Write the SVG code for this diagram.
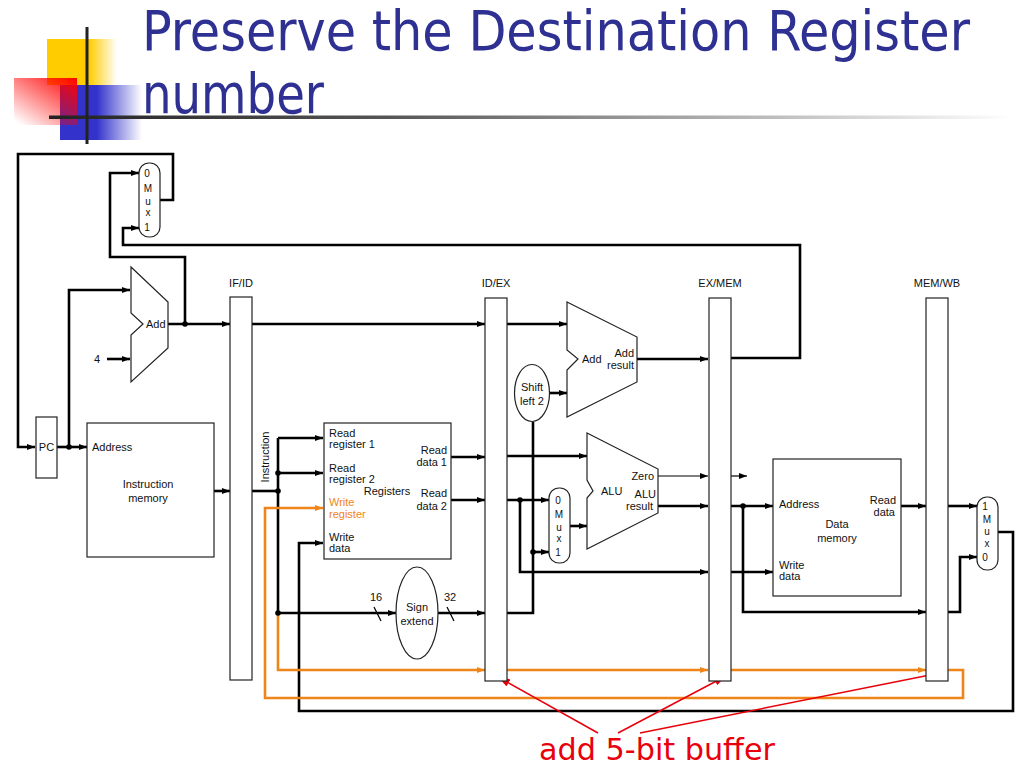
<svg xmlns="http://www.w3.org/2000/svg" width="1024" height="768" viewBox="0 0 1024 768">
<style>
.t{font-family:"Liberation Sans",Arial,sans-serif;font-size:11px;fill:#111}
.m{font-family:"Liberation Sans",Arial,sans-serif;font-size:10px;fill:#111;text-anchor:middle}
.c{text-anchor:middle}
.r{text-anchor:end}
.o{fill:#ef8418}
.box{fill:#fff;stroke:#222;stroke-width:1.2}
.w{fill:none;stroke:#000;stroke-width:2.6}
.th{fill:none;stroke:#000;stroke-width:1.2}
.or{fill:none;stroke:#ef8418;stroke-width:2.6}
.rd{fill:none;stroke:#e8000b;stroke-width:1.5}
.dot{fill:#000}
</style>
<defs>
<marker id="a" viewBox="0 0 8 6" refX="8" refY="3" markerWidth="8" markerHeight="6" markerUnits="userSpaceOnUse" orient="auto"><path d="M0,0 L8,3 L0,6 z" fill="#000"/></marker>
<marker id="ao" viewBox="0 0 8 6" refX="8" refY="3" markerWidth="8" markerHeight="6" markerUnits="userSpaceOnUse" orient="auto"><path d="M0,0 L8,3 L0,6 z" fill="#ef8418"/></marker>
<marker id="ar" viewBox="0 0 12 8" refX="12" refY="4" markerWidth="12" markerHeight="8" markerUnits="userSpaceOnUse" orient="auto"><path d="M0,0 L12,4 L0,8 z" fill="#e8000b"/></marker>
<linearGradient id="gy" x1="0" y1="0" x2="1" y2="0"><stop offset="0.6" stop-color="#ffcc00"/><stop offset="1" stop-color="#ffcc00" stop-opacity="0"/></linearGradient>
<linearGradient id="gb" x1="0" y1="0" x2="1" y2="0"><stop offset="0.45" stop-color="#3333cc"/><stop offset="1" stop-color="#3333cc" stop-opacity="0"/></linearGradient>
<linearGradient id="gr" x1="1" y1="0" x2="0.1" y2="1"><stop offset="0" stop-color="#ff0000"/><stop offset="1" stop-color="#ff0000" stop-opacity="0"/></linearGradient>
<linearGradient id="gl" x1="0" y1="0" x2="1" y2="0"><stop offset="0" stop-color="#222"/><stop offset="0.35" stop-color="#555"/><stop offset="1" stop-color="#fff"/></linearGradient>
</defs>
<rect width="1024" height="768" fill="#fff"/>
<g id="logo">
<rect x="47" y="39" width="70" height="46" fill="url(#gy)"/>
<rect x="60" y="85" width="82" height="55" fill="url(#gb)"/>
<rect x="14" y="78" width="63" height="47" fill="url(#gr)"/>
<rect x="49" y="115.5" width="965" height="3.5" fill="url(#gl)"/>
<rect x="85.5" y="27" width="3" height="117" fill="#222"/>
</g>
<g id="title" font-family="'DejaVu Sans Condensed','DejaVu Sans',sans-serif" font-size="56" fill="#2e3192">
<text x="142" y="50" textLength="828" lengthAdjust="spacingAndGlyphs">Preserve the Destination Register</text>
<text x="142" y="113" textLength="182" lengthAdjust="spacingAndGlyphs">number</text>
</g>
<g id="connectors">
<path class="w" d="M160,200 H173 V154 H18 V447 H35" marker-end="url(#a)"/>
<path class="w" d="M185,324 V257 H110 V173 H139" marker-end="url(#a)"/>
<path class="w" d="M731,358 H800 V245 H123 V228 H139" marker-end="url(#a)"/>
<path class="w" d="M57,447 H87" marker-end="url(#a)"/>
<path class="w" d="M69,447 V290 H130" marker-end="url(#a)"/>
<path class="w" d="M107,359 H130" marker-end="url(#a)"/>
<path class="w" d="M168,324 H230" marker-end="url(#a)"/>
<path class="w" d="M214,491 H230" marker-end="url(#a)"/>
<path class="w" d="M252,324 H485" marker-end="url(#a)"/>
<path class="w" d="M507,324 H567" marker-end="url(#a)"/>
<path class="w" d="M252,491 H278"/>
<path class="w" d="M278,438 V613"/>
<path class="w" d="M278,438 H323" marker-end="url(#a)"/>
<path class="w" d="M278,473 H323" marker-end="url(#a)"/>
<path class="w" d="M278,613 H396" marker-end="url(#a)"/>
<path class="th" d="M374,607 L381,621"/>
<path class="w" d="M438,613 H485" marker-end="url(#a)"/>
<path class="th" d="M447,607 L454,621"/>
<path class="w" d="M507,613 H533 V422"/>
<path class="w" d="M533,552 H549" marker-end="url(#a)"/>
<path class="w" d="M550,393 H567" marker-end="url(#a)"/>
<path class="w" d="M451,457 H485" marker-end="url(#a)"/>
<path class="w" d="M507,456 H587" marker-end="url(#a)"/>
<path class="w" d="M451,500 H485" marker-end="url(#a)"/>
<path class="w" d="M507,500 H549" marker-end="url(#a)"/>
<path class="w" d="M520,500 V572 H708" marker-end="url(#a)"/>
<path class="w" d="M570,526 H587" marker-end="url(#a)"/>
<path class="w" d="M637,359 H708" marker-end="url(#a)"/>
<path class="th" d="M658,476 H708" marker-end="url(#a)"/>
<path class="th" d="M731,476 H747" marker-end="url(#a)"/>
<path class="w" d="M658,506 H708" marker-end="url(#a)"/>
<path class="w" d="M731,506 H773" marker-end="url(#a)"/>
<path class="w" d="M743,506 V612 H926" marker-end="url(#a)"/>
<path class="w" d="M731,572 H773" marker-end="url(#a)"/>
<path class="w" d="M901,506 H926" marker-end="url(#a)"/>
<path class="w" d="M948,506 H977" marker-end="url(#a)"/>
<path class="w" d="M948,612 H960 V557 H977" marker-end="url(#a)"/>
<path class="w" d="M998,532 H1013 V711 H299 V543 H323" marker-end="url(#a)"/>
<path class="or" d="M278,614 V670 H485" marker-end="url(#ao)"/>
<path class="or" d="M507,670 H708" marker-end="url(#ao)"/>
<path class="or" d="M731,670 H926" marker-end="url(#ao)"/>
<path class="or" d="M948,670 H963 V698 H265 V508 H323" marker-end="url(#ao)"/>
<circle class="dot" cx="69" cy="447" r="2.8"/>
<circle class="dot" cx="185" cy="324" r="2.8"/>
<circle class="dot" cx="278" cy="473" r="2.8"/>
<circle class="dot" cx="278" cy="491" r="2.8"/>
<circle class="dot" cx="278" cy="613" r="2.8"/>
<circle class="dot" cx="533" cy="552" r="2.8"/>
<circle class="dot" cx="520" cy="500" r="2.8"/>
<circle class="dot" cx="743" cy="506" r="2.8"/>
<path class="rd" d="M598,733 L498,677" marker-end="url(#ar)"/>
<path class="rd" d="M618,733 L726,676" marker-end="url(#ar)"/>
<path class="rd" d="M640,733 L940,673" marker-end="url(#ar)"/>
</g>
<g id="mux-pc">
<rect class="box" x="139" y="163" width="21" height="74" rx="10"/>
<text class="m" x="147" y="177">0</text><text class="m" x="148" y="192">M</text><text class="m" x="148" y="205">u</text><text class="m" x="148" y="216">x</text><text class="m" x="147" y="231">1</text>
</g>
<g id="pc">
<rect class="box" x="36" y="417" width="21" height="61"/>
<text class="t c" x="46.5" y="451">PC</text>
</g>
<g id="add-pc">
<path class="box" d="M131,267 L168,302 L168,348 L131,382 L131,335 L143,324 L131,313 Z"/>
<text class="t" x="146" y="328">Add</text>
<text class="t" x="94" y="363">4</text>
</g>
<g id="instr-mem">
<rect class="box" x="87" y="423" width="127" height="134"/>
<text class="t" x="92" y="451">Address</text>
<text class="t c" x="148" y="488">Instruction</text>
<text class="t c" x="148" y="502">memory</text>
</g>
<g id="if-id">
<rect class="box" x="230" y="297" width="22" height="383"/>
<text class="t c" x="241" y="287">IF/ID</text>
<text class="t c" transform="translate(269,457) rotate(-90)">Instruction</text>
</g>
<g id="registers">
<rect class="box" x="324" y="423" width="127" height="136"/>
<text class="t" x="329" y="437">Read</text><text class="t" x="329" y="448">register 1</text>
<text class="t" x="329" y="472">Read</text><text class="t" x="329" y="483">register 2</text>
<text class="t o" x="329" y="506">Write</text><text class="t o" x="329" y="518">register</text>
<text class="t" x="329" y="541">Write</text><text class="t" x="329" y="552">data</text>
<text class="t c" x="387" y="495">Registers</text>
<text class="t r" x="447" y="454">Read</text><text class="t r" x="447" y="466">data 1</text>
<text class="t r" x="447" y="497">Read</text><text class="t r" x="447" y="510">data 2</text>
</g>
<g id="sign-extend">
<ellipse class="box" cx="417" cy="613" rx="21" ry="46"/>
<text class="t c" x="417" y="611">Sign</text>
<text class="t c" x="417" y="625">extend</text>
<text class="t c" x="376" y="601">16</text>
<text class="t c" x="450" y="601">32</text>
</g>
<g id="id-ex">
<rect class="box" x="485" y="298" width="22" height="383"/>
<text class="t c" x="496" y="287">ID/EX</text>
</g>
<g id="shift-left">
<ellipse class="box" cx="532" cy="393" rx="17.5" ry="28.5"/>
<text class="t c" x="532" y="391">Shift</text>
<text class="t c" x="532" y="405">left 2</text>
</g>
<g id="add-branch">
<path class="box" d="M567,302 L637,337 L637,382 L567,417 L567,370 L578,359 L567,350 Z"/>
<text class="t" x="582" y="363">Add</text>
<text class="t r" x="634" y="357">Add</text>
<text class="t r" x="634" y="369">result</text>
</g>
<g id="mux-alu">
<rect class="box" x="549" y="488" width="21" height="75" rx="10"/>
<text class="m" x="558" y="504">0</text><text class="m" x="559" y="518">M</text><text class="m" x="559" y="531">u</text><text class="m" x="559" y="542">x</text><text class="m" x="558" y="556">1</text>
</g>
<g id="alu">
<path class="box" d="M587,433 L658,469 L658,513 L587,549 L587,498 L593,491 L587,480 Z"/>
<text class="t" x="601" y="495">ALU</text>
<text class="t r" x="654" y="480">Zero</text>
<text class="t r" x="656" y="498">ALU</text>
<text class="t r" x="653" y="510">result</text>
</g>
<g id="ex-mem">
<rect class="box" x="709" y="298" width="22" height="383"/>
<text class="t c" x="720" y="287">EX/MEM</text>
</g>
<g id="data-mem">
<rect class="box" x="773" y="459" width="128" height="137"/>
<text class="t" x="779" y="508">Address</text>
<text class="t r" x="896" y="504">Read</text><text class="t r" x="895" y="516">data</text>
<text class="t c" x="837" y="528">Data</text><text class="t c" x="837" y="542">memory</text>
<text class="t" x="779" y="569">Write</text><text class="t" x="779" y="580">data</text>
</g>
<g id="mem-wb">
<rect class="box" x="926" y="298" width="22" height="383"/>
<text class="t c" x="937" y="287">MEM/WB</text>
</g>
<g id="mux-wb">
<rect class="box" x="977" y="497" width="21" height="73" rx="10"/>
<text class="m" x="985" y="510">1</text><text class="m" x="987" y="523">M</text><text class="m" x="987" y="535">u</text><text class="m" x="987" y="547">x</text><text class="m" x="985" y="561">0</text>
</g>
<g id="note">
<text x="657" y="760" font-family="'DejaVu Sans Condensed','DejaVu Sans',sans-serif" font-size="30" fill="#e8000b" text-anchor="middle" textLength="236" lengthAdjust="spacingAndGlyphs">add 5-bit buffer</text>
</g>
</svg>
